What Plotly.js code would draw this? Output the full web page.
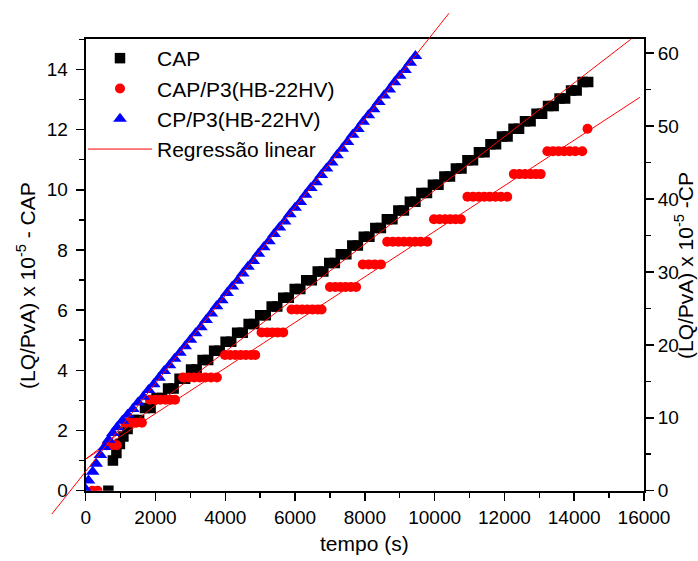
<!DOCTYPE html>
<html><head><meta charset="utf-8">
<script src="https://cdn.plot.ly/plotly-3.0.1.min.js"></script>
<style>html,body{margin:0;padding:0;background:#fff}</style>
</head><body><div id="chart" style="width:698px;height:561px"></div>
<script>
// ---- data ----
const capX = [650,780,880,980,1080,1200,1370,1530,1700,1860,2030,2190,2360,2520,2690,2850,3020,3180,3350,3510,3680,3840,4010,4170,4340,4500,4670,4830,5000,5160,5330,5490,5660,5820,5990,6150,6320,6480,6650,6810,6980,7140,7310,7470,7640,7800,7970,8130,8300,8460,8630,8790,8960,9120,9290,9450,9620,9780,9950,10110,10280,10440,10610,10770,10940,11100,11270,11430,11600,11760,11930,12090,12260,12420,12590,12750,12920,13080,13250,13410,13580,13740,13910,14070,14240,14400];
const capY = [0,1.0,1.25,1.55,1.8,2.05,2.35,2.35,2.75,2.75,3.08,3.08,3.40,3.40,3.72,3.72,4.03,4.03,4.34,4.34,4.65,4.65,4.95,4.95,5.25,5.25,5.54,5.54,5.83,5.83,6.12,6.12,6.41,6.41,6.70,6.70,6.99,6.99,7.28,7.28,7.57,7.57,7.86,7.86,8.15,8.15,8.44,8.44,8.73,8.73,9.02,9.02,9.31,9.31,9.60,9.60,9.89,9.89,10.17,10.17,10.44,10.44,10.71,10.71,10.98,10.98,11.25,11.25,11.51,11.51,11.77,11.77,12.03,12.03,12.28,12.28,12.53,12.53,12.78,12.78,13.03,13.03,13.30,13.30,13.58,13.58];

const capP3X = [190,340,600,750,890,1130,1290,1450,1610,1840,1990,2140,2290,2440,2560,2790,2950,3110,3270,3430,3590,3760,3990,4140,4290,4440,4590,4740,4860,5040,5200,5350,5500,5660,5900,6050,6200,6350,6500,6650,6760,7000,7150,7300,7450,7600,7750,7940,8110,8280,8460,8640,8800,8960,9120,9280,9440,9600,9790,9980,10140,10300,10450,10600,10750,10940,11100,11260,11420,11580,11740,11900,12080,12270,12430,12590,12750,12900,13040,13230,13390,13550,13710,13870,14030,14230,14380];
const capP3Y = [0,0,1.51,1.51,1.51,2.26,2.26,2.26,2.26,3.02,3.02,3.02,3.02,3.02,3.02,3.76,3.76,3.76,3.76,3.76,3.76,3.76,4.51,4.51,4.51,4.51,4.51,4.51,4.51,5.26,5.26,5.26,5.26,5.26,6.02,6.02,6.02,6.02,6.02,6.02,6.02,6.77,6.77,6.77,6.77,6.77,6.77,7.52,7.52,7.52,7.52,8.27,8.27,8.27,8.27,8.27,8.27,8.27,8.27,9.02,9.02,9.02,9.02,9.02,9.02,9.77,9.77,9.77,9.77,9.77,9.77,9.77,9.77,10.52,10.52,10.52,10.52,10.52,10.52,11.28,11.28,11.28,11.28,11.28,11.28,11.28,12.03];

const cpP3X = [0,80,200,300,420,540,660,780,900,1050,1200,1350,1500,1650,1800,1950,2100,2250,2400,2550,2700,2850,3000,3150,3300,3450,3600,3750,3900,4050,4200,4350,4500,4650,4800,4950,5100,5250,5400,5550,5700,5850,6000,6150,6300,6450,6600,6750,6900,7050,7200,7350,7500,7650,7800,7950,8100,8250,8400,8550,8700,8850,9000,9150,9300,9450];
const cpP3Y = [0.2,1.4,2.6,3.7,4.9,6.0,7.0,7.9,8.7,9.6,10.4,11.2,12.1,12.9,13.8,14.6,15.5,16.4,17.2,18.1,18.9,19.8,20.7,21.6,22.4,23.4,24.3,25.3,26.1,27.1,28.0,28.8,29.8,30.7,31.5,32.5,33.4,34.2,35.2,36.1,36.9,37.9,38.8,39.6,40.6,41.5,42.3,43.3,44.2,45.0,46.0,46.9,47.8,48.8,49.6,50.6,51.5,52.3,53.3,54.2,55.0,56.0,56.9,57.7,58.7,59.6];

// linear regressions (intercept, slope, x extent)
const regIntercept = [1.05, 1.05, 2.65];
const regSlope = [0.000893, 0.000757, 0.006034];
const regXStart = [0, 0, -970];
const regXEnd = [16000, 15880, 10410];

const xTickVals = [0,2000,4000,6000,8000,10000,12000,14000,16000];
const yTickVals = [0,2,4,6,8,10,12,14];
const y2TickVals = [0,10,20,30,40,50,60];

const seriesNames = ['CAP','CAP/P3(HB-22HV)','CP/P3(HB-22HV)','Regressão linear'];
const yTitleLeft = '(LQ/PvA) x 10<sup>-5</sup> - CAP';
const yTitleRight = '(LQ/PvA) x 10<sup>-5</sup> -CP';
const xTitle = 'tempo (s)';

// ---- layout geometry ----
const W = 698, H = 561;
const xDom = [85.7/W, 644/W];
const yDom = [1-490.7/H, 1-39.3/H];
const xRange = [0,16000], yRange = [0,15], y2Range = [0,61.9];
function extend(r,d){const s=(r[1]-r[0])/(d[1]-d[0]);return [r[0]-d[0]*s, r[0]+(1-d[0])*s];}

const FONT = 'Arial, "Liberation Sans", sans-serif';
function regLine(i){return {x:[regXStart[i],regXEnd[i]], y:[regIntercept[i]+regSlope[i]*regXStart[i], regIntercept[i]+regSlope[i]*regXEnd[i]]};}

const traces = [
 {type:'scatter',mode:'markers',name:seriesNames[0],x:capX,y:capY,xaxis:'x',yaxis:'y',
  marker:{symbol:'square',size:10.5,color:'#000000',line:{width:0}}},
 {type:'scatter',mode:'markers',name:seriesNames[1],x:capP3X,y:capP3Y,xaxis:'x',yaxis:'y',
  marker:{symbol:'circle',size:10,color:'#ff0000',line:{width:0}}},
 {type:'scatter',mode:'markers',name:seriesNames[2],x:cpP3X,y:cpP3Y,xaxis:'x',yaxis:'y2',
  marker:{symbol:'triangle-up',size:12,color:'#0000ff',line:{width:0}}},
 Object.assign({type:'scatter',mode:'lines',name:seriesNames[3],xaxis:'x',yaxis:'y',showlegend:true,
  line:{color:'#ff0000',width:1}}, regLine(0)),
 Object.assign({type:'scatter',mode:'lines',name:seriesNames[3],xaxis:'x',yaxis:'y',showlegend:false,
  line:{color:'#ff0000',width:1}}, regLine(1)),
 Object.assign({type:'scatter',mode:'lines',name:seriesNames[3],xaxis:'x3',yaxis:'y3',showlegend:false,
  line:{color:'#ff0000',width:1}}, regLine(2))
];

const axBase = {showgrid:false,zeroline:false,showline:true,linecolor:'#000',linewidth:2,
  ticks:'outside',ticklen:8,tickwidth:1.5,tickcolor:'#000',
  tickfont:{family:FONT,size:19,color:'#000'},fixedrange:true};

const layout = {
 width:W,height:H,margin:{l:0,r:0,t:0,b:0},
 paper_bgcolor:'#ffffff',plot_bgcolor:'rgba(0,0,0,0)',
 font:{family:FONT,color:'#000'},
 showlegend:true,
 legend:{x:83/W,xanchor:'left',y:1-38/H,yanchor:'top',bgcolor:'rgba(0,0,0,0)',borderwidth:0,
   font:{family:FONT,size:21,color:'#000'},itemwidth:64,tracegroupgap:0},
 xaxis:Object.assign({},axBase,{domain:xDom,range:xRange,anchor:'y',mirror:true,
   tickmode:'array',tickvals:xTickVals,ticktext:xTickVals.map(String),
   minor:{tick0:0,dtick:1000,ticks:'outside',ticklen:5,tickwidth:1.5,tickcolor:'#000'}}),
 yaxis:Object.assign({},axBase,{domain:yDom,range:yRange,anchor:'x',
   tickmode:'array',tickvals:yTickVals,ticktext:yTickVals.map(String),ticklabelstandoff:4,
   minor:{tick0:0,dtick:1,ticks:'outside',ticklen:5,tickwidth:1.5,tickcolor:'#000'}}),
 yaxis2:Object.assign({},axBase,{domain:yDom,range:y2Range,anchor:'x',overlaying:'y',side:'right',
   tickmode:'array',tickvals:y2TickVals,ticktext:y2TickVals.map(String),
   minor:{tick0:0,dtick:5,ticks:'outside',ticklen:5,tickwidth:1.5,tickcolor:'#000'}}),
 xaxis3:{domain:[0,1],anchor:'y3',range:extend(xRange,xDom),visible:false,showgrid:false,zeroline:false,fixedrange:true},
 yaxis3:{domain:[0,1],anchor:'x3',range:extend(y2Range,yDom),visible:false,showgrid:false,zeroline:false,fixedrange:true},
 annotations:[
  {xref:'paper',yref:'paper',x:26/W,y:1-286/H,text:yTitleLeft,textangle:-90,showarrow:false,
   font:{family:FONT,size:21,color:'#000'},xanchor:'center',yanchor:'middle'},
  {xref:'paper',yref:'paper',x:684/W,y:1-266/H,text:yTitleRight,textangle:-90,showarrow:false,
   font:{family:FONT,size:21,color:'#000'},xanchor:'center',yanchor:'middle'},
  {xref:'paper',yref:'paper',x:365/W,y:1-543/H,text:xTitle,showarrow:false,
   font:{family:FONT,size:21,color:'#000'},xanchor:'center',yanchor:'middle'}
 ]
};

Plotly.newPlot('chart',traces,layout,{staticPlot:true,displayModeBar:false});
</script>
</body></html>
